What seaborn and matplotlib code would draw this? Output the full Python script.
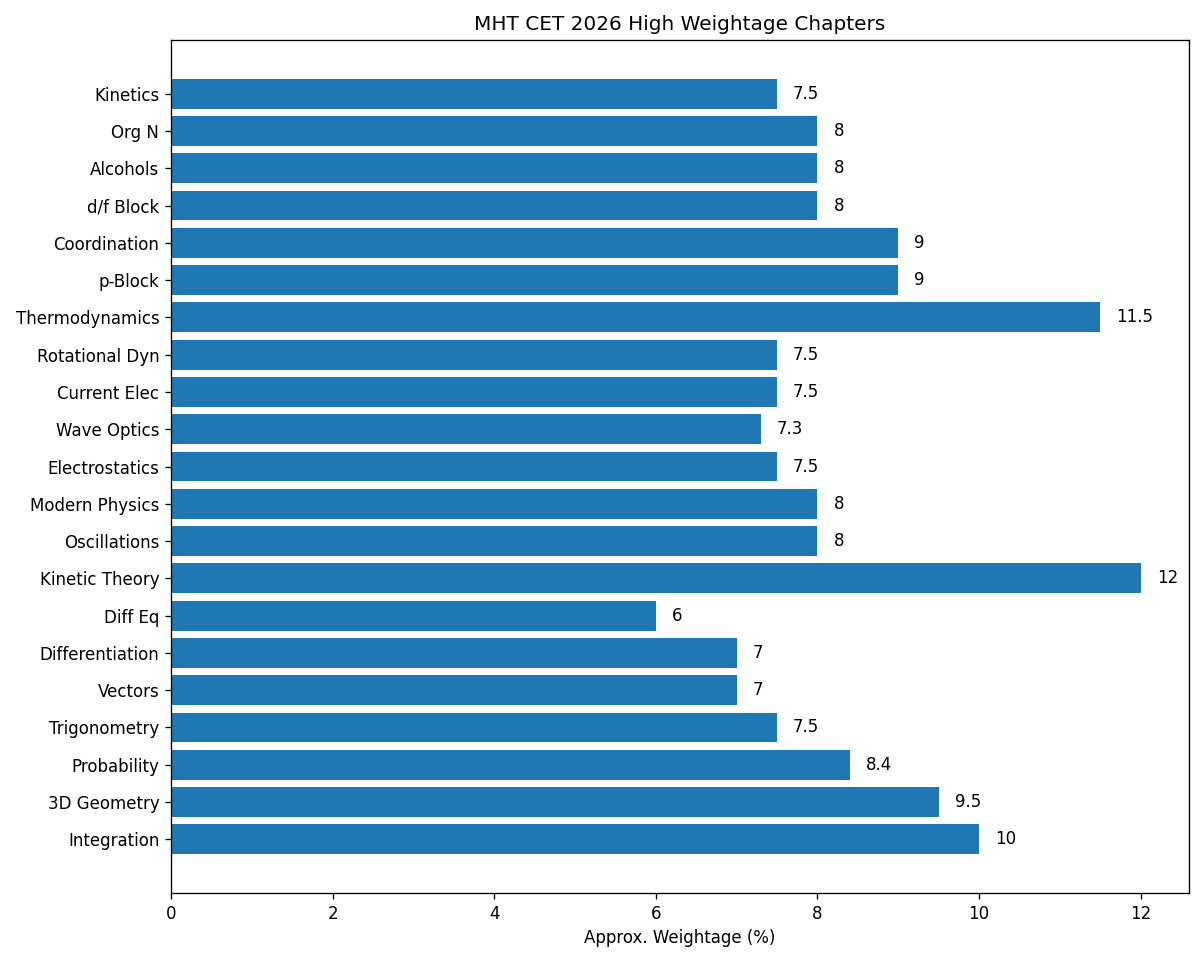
import matplotlib
matplotlib.use("Agg")
import matplotlib.pyplot as plt
import seaborn as sns
import pandas as pd

chapters = ["Kinetics", "Org N", "Alcohols", "d/f Block", "Coordination", "p-Block",
            "Thermodynamics", "Rotational Dyn", "Current Elec", "Wave Optics",
            "Electrostatics", "Modern Physics", "Oscillations", "Kinetic Theory",
            "Diff Eq", "Differentiation", "Vectors", "Trigonometry", "Probability",
            "3D Geometry", "Integration"]
weightage = [7.5, 8, 8, 8, 9, 9, 11.5, 7.5, 7.5, 7.3, 7.5, 8, 8, 12, 6, 7, 7, 7.5, 8.4, 9.5, 10]

df = pd.DataFrame({"Chapter": chapters, "Weightage": weightage})

fig = plt.figure(figsize=(10, 959 / 120), dpi=120)
ax = fig.add_axes([171 / 1200, 1 - 893 / 959, (1189 - 171) / 1200, (893 - 40) / 959])

sns.barplot(data=df, x="Weightage", y="Chapter", orient="h", color="#1f77b4",
            saturation=1, width=0.8, ax=ax, errorbar=None)

n = len(chapters)
ax.set_ylim(n - 1 + 0.4 + 0.05 * (n - 1 + 0.8), -0.4 - 0.05 * (n - 1 + 0.8))
ax.set_xlim(0, max(weightage) * 1.05)

for i, v in enumerate(weightage):
    ax.text(v + 0.2, i, f"{v:g}", va="center", fontsize=10)

ax.set_ylabel("")
ax.set_xlabel("Approx. Weightage (%)")
ax.set_title("MHT CET 2026 High Weightage Chapters", fontsize=12)

fig.savefig("out.png", dpi=120)
